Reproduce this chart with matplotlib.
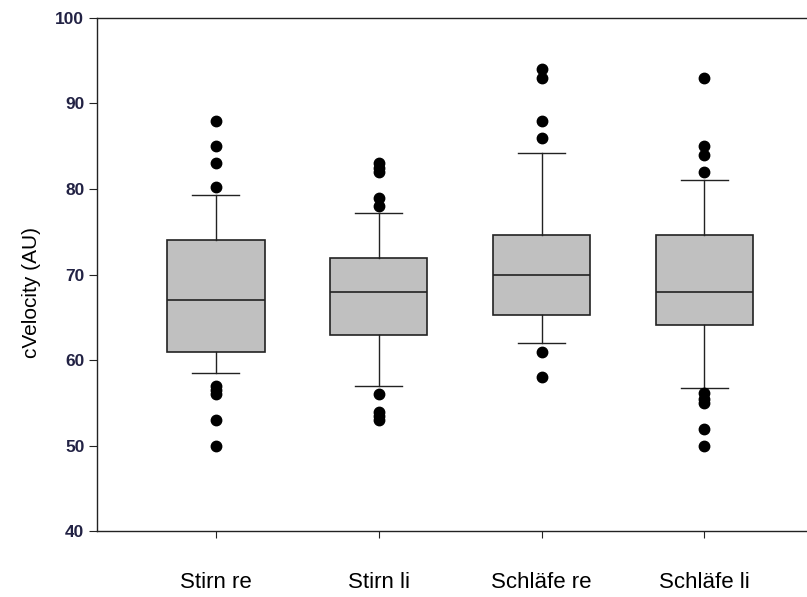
import matplotlib
matplotlib.use("Agg")
import matplotlib.pyplot as plt

plt.rcParams['font.family'] = ['Liberation Sans', 'DejaVu Sans']

# groups shown on the x axis
categories = ['Stirn re', 'Stirn li', 'Schläfe re', 'Schläfe li']

# box statistics
q1 = [61.0, 63.0, 65.3, 64.1]
median = [67.0, 68.0, 70.0, 68.0]
q3 = [74.0, 72.0, 74.6, 74.6]
whisker_low = [58.5, 57.0, 62.0, 56.8]
whisker_high = [79.3, 77.2, 84.2, 81.0]

# outliers per group
outliers = [
    [88, 85, 83, 80.2, 57, 56.5, 56, 53, 50],
    [83, 82.5, 82, 79, 78, 56, 54, 53.5, 53],
    [94, 93, 88, 86, 61, 58],
    [93, 85, 84, 82, 56.2, 55.5, 55, 52, 50],
]

yticks = [40, 50, 60, 70, 80, 90, 100]

stats = []
for i, name in enumerate(categories):
    stats.append({
        'label': name,
        'q1': q1[i], 'med': median[i], 'q3': q3[i],
        'whislo': whisker_low[i], 'whishi': whisker_high[i],
        'fliers': outliers[i],
    })

fig = plt.figure(figsize=(8.07, 5.97), dpi=100)
ax = fig.add_axes([0.120, 0.110, 0.880, 0.860])

ax.bxp(stats, positions=[1, 2, 3, 4], widths=0.6, capwidths=0.29,
       patch_artist=True,
       boxprops=dict(facecolor='#c0c0c0', edgecolor='#222222', linewidth=1.2),
       medianprops=dict(color='#222222', linewidth=1.2),
       whiskerprops=dict(color='#222222', linewidth=1.0),
       capprops=dict(color='#222222', linewidth=1.0),
       flierprops=dict(marker='o', markerfacecolor='black', markeredgecolor='black',
                       markersize=7.5, linestyle='none'))

ax.set_xlim(0.27, 4.63)
ax.set_ylim(40, 100)
ax.set_yticks(yticks)
ax.set_xticks([1, 2, 3, 4])
ax.set_xticklabels(categories, fontsize=16)
ax.tick_params(axis='x', direction='out', length=5, pad=24, color='#222222')
ax.tick_params(axis='y', direction='out', length=6, pad=3, labelsize=12.5, color='#222222')
for lab in ax.get_yticklabels():
    lab.set_fontweight('bold')
    lab.set_color('#222244')
ax.set_ylabel('cVelocity (AU)', fontsize=15)
ax.yaxis.set_label_coords(-0.078, 0.466)

ax.spines['right'].set_visible(False)
for s in ['left', 'top', 'bottom']:
    ax.spines[s].set_color('#222222')
    ax.spines[s].set_linewidth(1.0)

fig.savefig('out.png', dpi=100)
